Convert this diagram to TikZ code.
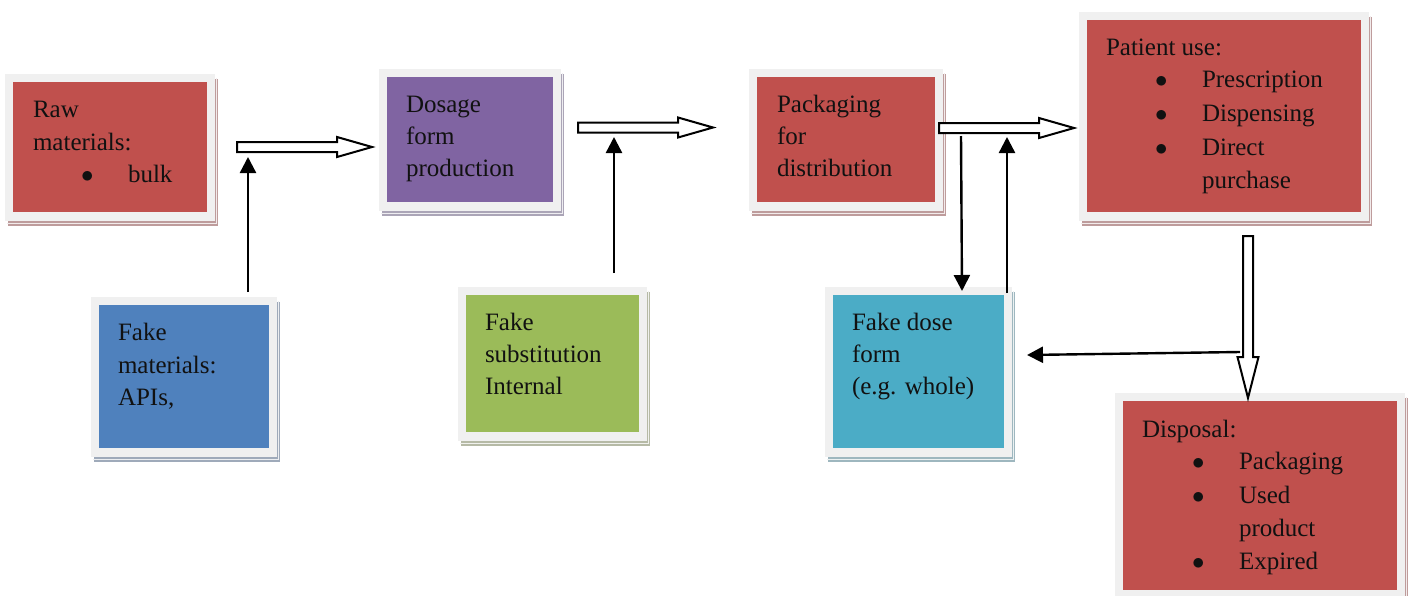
\documentclass[tikz,border=0pt]{standalone}
\usepackage{fontspec}
\setmainfont{Liberation Serif}
\usetikzlibrary{arrows.meta,calc,shadows}
\definecolor{framegray}{HTML}{F0F0F0}
\definecolor{cred}{HTML}{C0504D}
\definecolor{cpurple}{HTML}{8064A2}
\definecolor{cblue}{HTML}{4F81BD}
\definecolor{cgreen}{HTML}{9BBB59}
\definecolor{ccyan}{HTML}{4BACC6}
\definecolor{sred}{HTML}{BE9C9C}
\definecolor{spurple}{HTML}{ABA5B7}
\definecolor{sblue}{HTML}{9FAABA}
\definecolor{sgreen}{HTML}{B6BAA6}
\definecolor{scyan}{HTML}{9EB7BF}
\definecolor{txt}{HTML}{111111}
\newcommand{\bul}{$\bullet$}
\tikzset{
  outerbox/.style={rectangle, fill=framegray, inner sep=0pt, outer sep=0pt, anchor=north west},
  innerbox/.style={rectangle, inner sep=0pt, outer sep=0pt, anchor=north west},
  shadowbox/.style={rectangle, inner sep=0pt, outer sep=0pt, anchor=north west},
  lbl/.style={anchor=base west, inner sep=0pt, outer sep=0pt, text=txt, font=\fontsize{25}{34}\selectfont},
  hollow/.style={draw=black, fill=white, line width=2pt, line join=miter},
  thinarrow/.style={draw=black, line width=2.4pt, -{Triangle[length=16pt,width=16pt]}},
}
% name, x0, y0, width, height, fill, shadow
\newcommand{\mkbox}[7]{%
  \node[shadowbox, fill=#7, minimum width=#4pt, minimum height=#5pt] (#1s) at ($(#2,#3)+(3,5)$) {};
  \draw[white!80!#7, line width=0.8pt] ($(#2,#3)+(#4,0)+(1.5,4)$) -- ($(#2,#3)+(#4,#5)+(1.5,2.5)$) -- ($(#2,#3)+(0,#5)+(2,2.5)$);
  \node[outerbox, minimum width=#4pt, minimum height=#5pt] (#1o) at (#2,#3) {};
  \node[innerbox, fill=#6, minimum width=#4pt-16pt, minimum height=#5pt-17pt] (#1) at ($(#2,#3)+(8,8)$) {};
}
\begin{document}
\begin{tikzpicture}[x=1pt,y=-1pt]
\useasboundingbox (0,0) rectangle (1411,595);
\fill[white] (0,0) rectangle (1411,595);

% boxes
\mkbox{raw}{5}{74}{210}{147}{cred}{sred}
\mkbox{dos}{379}{69}{182}{142}{cpurple}{spurple}
\mkbox{pack}{749}{69}{194}{142}{cred}{sred}
\mkbox{pat}{1079}{12}{290}{209}{cred}{sred}
\mkbox{fmat}{91}{297}{186}{160}{cblue}{sblue}
\mkbox{fsub}{458}{287}{189}{154}{cgreen}{sgreen}
\mkbox{fdose}{825}{287}{187}{170}{ccyan}{scyan}
\mkbox{disp}{1115}{393}{290}{206}{cred}{sred}

% texts
\node[lbl] (t1a) at (33,117) {Raw};
\node[lbl] (t1b) at (33,150) {materials:};
\node[lbl] (t1c) at (81,182) {\bul};
\node[lbl] (t1d) at (128,182) {bulk};

\node[lbl] (t2a) at (406,112) {Dosage};
\node[lbl] (t2b) at (406,144) {form};
\node[lbl] (t2c) at (406,176) {production};

\node[lbl] (t3a) at (777,112) {Packaging};
\node[lbl] (t3b) at (777,144) {for};
\node[lbl] (t3c) at (777,176) {distribution};

\node[lbl] (t4a) at (1106,55) {Patient use:};
\node[lbl] (t4b) at (1155,87) {\bul};
\node[lbl] (t4c) at (1202,87) {Prescription};
\node[lbl] (t4d) at (1155,121) {\bul};
\node[lbl] (t4e) at (1202,121) {Dispensing};
\node[lbl] (t4f) at (1155,155) {\bul};
\node[lbl] (t4g) at (1202,155) {Direct};
\node[lbl] (t4h) at (1202,188) {purchase};

\node[lbl] (t5a) at (118,340) {Fake};
\node[lbl] (t5b) at (118,373) {materials:};
\node[lbl] (t5c) at (118,405) {APIs,};

\node[lbl] (t6a) at (485,330) {Fake};
\node[lbl] (t6b) at (485,362) {substitution};
\node[lbl] (t6c) at (485,394) {Internal};

\node[lbl] (t7a) at (852,330) {Fake dose};
\node[lbl] (t7b) at (852,362) {form};
\node[lbl] (t7c) at (852,394) {(e.g. whole)};

\node[lbl] (t8a) at (1142,437) {Disposal:};
\node[lbl] (t8b) at (1192,469) {\bul};
\node[lbl] (t8c) at (1239,469) {Packaging};
\node[lbl] (t8d) at (1192,503) {\bul};
\node[lbl] (t8e) at (1239,503) {Used};
\node[lbl] (t8f) at (1239,536) {product};
\node[lbl] (t8g) at (1192,569) {\bul};
\node[lbl] (t8h) at (1239,569) {Expired};

% hollow arrows (horizontal)
\coordinate (h1a) at (237,147);   \coordinate (h1b) at (372,147);
\coordinate (h2a) at (578,127.5); \coordinate (h2b) at (713,127.5);
\coordinate (h3a) at (939,128);   \coordinate (h3b) at (1074,128);
\foreach \a/\b in {h1a/h1b,h2a/h2b,h3a/h3b}{
  \draw[hollow] ($(\a)+(0,-5)$) -- ($(\b)+(-35,-5)$) -- ($(\b)+(-35,-10)$) -- (\b)
    -- ($(\b)+(-35,10)$) -- ($(\b)+(-35,5)$) -- ($(\a)+(0,5)$) -- cycle;
}
% hollow arrow (vertical)
\coordinate (v1a) at (1248,236); \coordinate (v1b) at (1248,398);
\draw[hollow] ($(v1a)+(-5,0)$) -- ($(v1b)+(-5,-41)$) -- ($(v1b)+(-10.5,-41)$) -- (v1b)
  -- ($(v1b)+(10.5,-41)$) -- ($(v1b)+(5,-41)$) -- ($(v1a)+(5,0)$) -- cycle;

% thin arrows
\coordinate (a1s) at (248,292);  \coordinate (a1e) at (248,157);
\coordinate (a2s) at (614,273);  \coordinate (a2e) at (614,137);
\coordinate (a3s) at (961,136);  \coordinate (a3e) at (962,291);
\coordinate (a4s) at (1007,293); \coordinate (a4e) at (1007,137);
\coordinate (a5s) at (1240,352); \coordinate (a5e) at (1027,355);
\draw[thinarrow] (a1s) -- (a1e);
\draw[thinarrow] (a2s) -- (a2e);
\draw[thinarrow] (a3s) -- (a3e);
\draw[thinarrow] (a4s) -- (a4e);
\draw[thinarrow] (a5s) -- (a5e);
\end{tikzpicture}
\end{document}
